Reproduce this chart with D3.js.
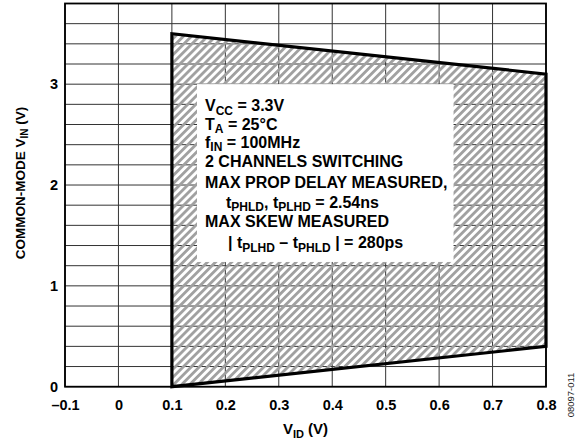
<!DOCTYPE html>
<html>
<head>
<script src="https://d3js.org/d3.v7.min.js"></script>
<style>
  body { margin: 0; background: #fff; }
  svg { font-family: "Liberation Sans", Arial, sans-serif; }
</style>
</head>
<body>
<div id="chart"></div>
<script>
// data
const xTicks = [-0.1, 0, 0.1, 0.2, 0.3, 0.4, 0.5, 0.6, 0.7, 0.8];
const xTickLabels = ["\u20130.1", "0", "0.1", "0.2", "0.3", "0.4", "0.5", "0.6", "0.7", "0.8"];
const yTicks = [0, 1, 2, 3];
const yGrid = d3.range(0, 3.81, 0.2);
// operating region boundary (V_ID, V_IN)
const regionVid = [0.1, 0.1, 0.8, 0.8];
const regionVin = [0, 3.5, 3.1, 0.4];
// note box corners in data units
const boxX = [0.147, 0.627];
const boxY = [1.237, 3.0];
const noteLines = [
  [["V", 0], ["CC", 1], [" = 3.3V", 0]],
  [["T", 0], ["A", 1], [" = 25\u00B0C", 0]],
  [["f", 0], ["IN", 1], [" = 100MHz", 0]],
  [["2 CHANNELS SWITCHING", 0]],
  [["MAX PROP DELAY MEASURED,", 0]],
  [["t", 0], ["PHLD", 1], [", t", 0], ["PLHD", 1], [" = 2.54ns", 0]],
  [["MAX SKEW MEASURED", 0]],
  [["| t", 0], ["PLHD", 1], [" \u2013 t", 0], ["PHLD", 1], [" | = 280ps", 0]]
];
const noteIndent = [0, 0, 0, 0, 0, 21, 0, 23];
const noteBaselines = [111, 129.5, 147.5, 166.5, 187.5, 207.5, 226.5, 248];

const width = 582, height = 442;
const mLeft = 65, mRight = 546, mTop = 3.5, mBottom = 386.7;

const svg = d3.select('#chart').append('svg')
  .attr('width', width).attr('height', height);

const x = d3.scaleLinear().domain([-0.1, 0.8]).range([mLeft, mRight]);
const y = d3.scaleLinear().domain([0, 3.8]).range([mBottom, mTop]);

// hatch pattern
const defs = svg.append('defs');
const pat = defs.append('pattern')
  .attr('id', 'hatch')
  .attr('patternUnits', 'userSpaceOnUse')
  .attr('width', 5.7).attr('height', 5.7)
  .attr('patternTransform', 'rotate(45)');
pat.append('rect')
  .attr('x', 0).attr('y', 0).attr('width', 2.8).attr('height', 5.7)
  .attr('fill', '#a0a0a0');

// grid
const grid = svg.append('g');
grid.selectAll('.v').data(xTicks).join('line')
  .attr('x1', d => x(d)).attr('x2', d => x(d))
  .attr('y1', mTop).attr('y2', mBottom)
  .attr('stroke', '#333').attr('stroke-width', 1);
grid.selectAll('.h').data(yGrid).join('line')
  .attr('x1', mLeft).attr('x2', mRight)
  .attr('y1', d => y(d)).attr('y2', d => y(d))
  .attr('stroke', '#333').attr('stroke-width', 1);

// region
const pts = regionVid.map((v, i) => [x(v), y(regionVin[i])]);
svg.append('path')
  .attr('d', d3.line()(pts) + 'Z')
  .attr('fill', 'url(#hatch)');

// note box
svg.append('rect')
  .attr('x', x(boxX[0])).attr('y', y(boxY[1]))
  .attr('width', x(boxX[1]) - x(boxX[0]))
  .attr('height', y(boxY[0]) - y(boxY[1]))
  .attr('fill', '#fff');

// frame
svg.append('rect')
  .attr('x', mLeft).attr('y', mTop)
  .attr('width', mRight - mLeft).attr('height', mBottom - mTop)
  .attr('fill', 'none').attr('stroke', '#000').attr('stroke-width', 1.8);

// region outline
svg.append('path')
  .attr('d', d3.line()(pts) + 'Z')
  .attr('fill', 'none')
  .attr('stroke', '#000').attr('stroke-width', 3.2)
  .attr('stroke-linejoin', 'miter');

// axes labels
const xAxis = d3.axisBottom(x).tickValues(xTicks)
  .tickFormat((d, i) => xTickLabels[i]).tickSize(0).tickPadding(13.5);
const gx = svg.append('g').attr('transform', `translate(0,${mBottom})`).call(xAxis);
gx.select('.domain').remove();
gx.selectAll('text').attr('font-size', 14.5).attr('font-weight', 'bold')
  .attr('fill', '#000').attr('font-family', '"Liberation Sans", Arial, sans-serif');

const yAxis = d3.axisLeft(y).tickValues(yTicks).tickFormat(d3.format('d'))
  .tickSize(0).tickPadding(7);
const gy = svg.append('g').attr('transform', `translate(${mLeft},0)`).call(yAxis);
gy.select('.domain').remove();
gy.selectAll('text').attr('font-size', 14.5).attr('font-weight', 'bold')
  .attr('fill', '#000').attr('font-family', '"Liberation Sans", Arial, sans-serif');

// sub-scripted text helper
function richText(sel, segs, size, subSize, subDy) {
  segs.forEach(([t, sub], i) => {
    const prevSub = i > 0 && segs[i - 1][1];
    let dy = 0;
    if (sub && !prevSub) dy = subDy;
    if (!sub && prevSub) dy = -subDy;
    sel.append('tspan').text(t)
      .attr('font-size', sub ? subSize : size)
      .attr('dy', dy);
  });
}

// note text
noteLines.forEach((segs, i) => {
  const t = svg.append('text')
    .attr('x', x(boxX[0]) + 8 + noteIndent[i])
    .attr('y', noteBaselines[i])
    .attr('font-weight', 'bold').attr('fill', '#000')
    .style('white-space', 'pre');
  richText(t, segs, 16, 12, 3.5);
});

// axis titles
const xt = svg.append('text')
  .attr('x', x(0.35)).attr('y', 434)
  .attr('text-anchor', 'middle').attr('font-weight', 'bold');
richText(xt, [["V", 0], ["ID", 1], [" (V)", 0]], 15, 11, 3.5);

const yt = svg.append('text')
  .attr('transform', `translate(25,183) rotate(-90)`)
  .attr('text-anchor', 'middle').attr('font-weight', 'bold');
richText(yt, [["COMMON-MODE V", 0], ["IN", 1], [" (V)", 0]], 13.5, 10, 3);

svg.append('text')
  .attr('transform', `translate(574,395) rotate(-90)`)
  .attr('text-anchor', 'middle').attr('font-size', 9.5).attr('fill', '#222')
  .text('08097-011');
</script>
</body>
</html>
